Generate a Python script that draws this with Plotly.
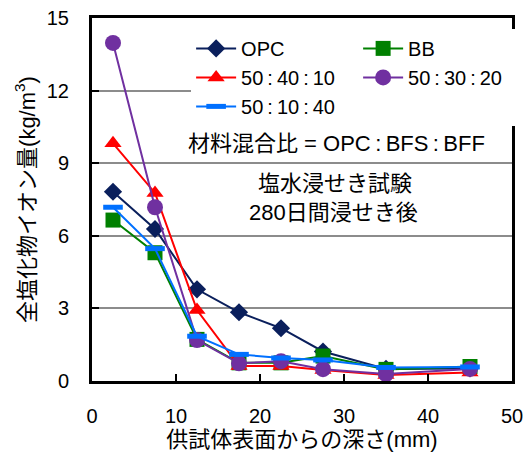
import plotly.graph_objects as go

depth = [2.5, 7.5, 12.5, 17.5, 22.5, 27.5, 35, 45]
opc = [7.82, 6.28, 3.79, 2.84, 2.18, 1.22, 0.5, 0.52]
bb = [6.65, 5.30, 1.72, 0.75, 0.75, 1.03, 0.48, 0.60]
r50_40_10 = [9.82, 7.77, 2.93, 0.62, 0.62, 0.45, 0.25, 0.35]
r50_30_20 = [13.97, 7.18, 1.69, 0.73, 0.82, 0.49, 0.29, 0.50]
r50_10_40 = [7.18, 5.47, 1.85, 1.10, 0.95, 0.87, 0.56, 0.58]

TS = "\u2009"
names = ["OPC", "BB", f"50{TS}:{TS}40{TS}:{TS}10", f"50{TS}:{TS}30{TS}:{TS}20", f"50{TS}:{TS}10{TS}:{TS}40"]
series = [opc, bb, r50_40_10, r50_30_20, r50_10_40]
colors = ["#0A1F5C", "#008000", "#FF0000", "#7030A0", "#0070FF"]
symbols = ["diamond", "square", "triangle-up", "circle", "line-ew"]
sizes = [14, 15, 15, 16, 14]

FONT = "Liberation Sans, Arial, Noto Sans CJK JP, sans-serif"

fig = go.Figure()
for n, s, c, sym, sz in zip(names, series, colors, symbols, sizes):
    marker = dict(symbol=sym, size=sz, color=c)
    if sym == "line-ew":
        marker["line"] = dict(color=c, width=5)
    else:
        marker["line"] = dict(width=0)
    fig.add_trace(go.Scatter(x=depth, y=s, name=n, mode="lines+markers",
                             line=dict(color=c, width=2), marker=marker))

fig.update_layout(
    width=531, height=461,
    margin=dict(l=92, r=19, t=18, b=80, autoexpand=False),
    paper_bgcolor="white", plot_bgcolor="white",
    font=dict(family=FONT, size=20, color="black"),
    showlegend=True,
    legend=dict(orientation="h", x=0.236, xanchor="left", y=0.97, yanchor="top",
                bgcolor="white", entrywidth=112, entrywidthmode="pixels",
                font=dict(size=20), tracegroupgap=0, itemwidth=40),
)
fig.add_annotation(text=f"材料混合比 = OPC{TS}:{TS}BFS{TS}:{TS}BFF", x=(336-92)/420, y=9.8,
                   xref="paper", yref="y", showarrow=False, font=dict(size=22))
fig.add_annotation(text="塩水浸せき試験", x=(335-92)/420, y=8.15,
                   xref="paper", yref="y", showarrow=False, font=dict(size=22))
fig.add_annotation(text="280日間浸せき後", x=(333-92)/420, y=6.95,
                   xref="paper", yref="y", showarrow=False, font=dict(size=22))

fig.update_xaxes(range=[0, 50], dtick=10, tick0=0, automargin=False,
                 showline=True, linecolor="black", linewidth=3, mirror=True,
                 ticks="inside", ticklen=7, tickwidth=2, tickcolor="black",
                 showgrid=False, zeroline=False, ticklabelstandoff=15,
                 title=dict(text="供試体表面からの深さ(mm)", standoff=0, font=dict(size=22)))
fig.update_yaxes(range=[0, 15], dtick=3, tick0=0, automargin=False,
                 showline=True, linecolor="black", linewidth=3, mirror=True,
                 ticks="inside", ticklen=7, tickwidth=2, tickcolor="black",
                 showgrid=True, gridcolor="#8C8C8C", gridwidth=2, zeroline=False,
                 ticklabelstandoff=16,
                 title=dict(text="全塩化物イオン量(kg/m<sup>3</sup>)", standoff=6, font=dict(size=22)))

fig.write_html("out.html", config={"displayModeBar": False},
               post_script="document.body.style.margin='0px';")
